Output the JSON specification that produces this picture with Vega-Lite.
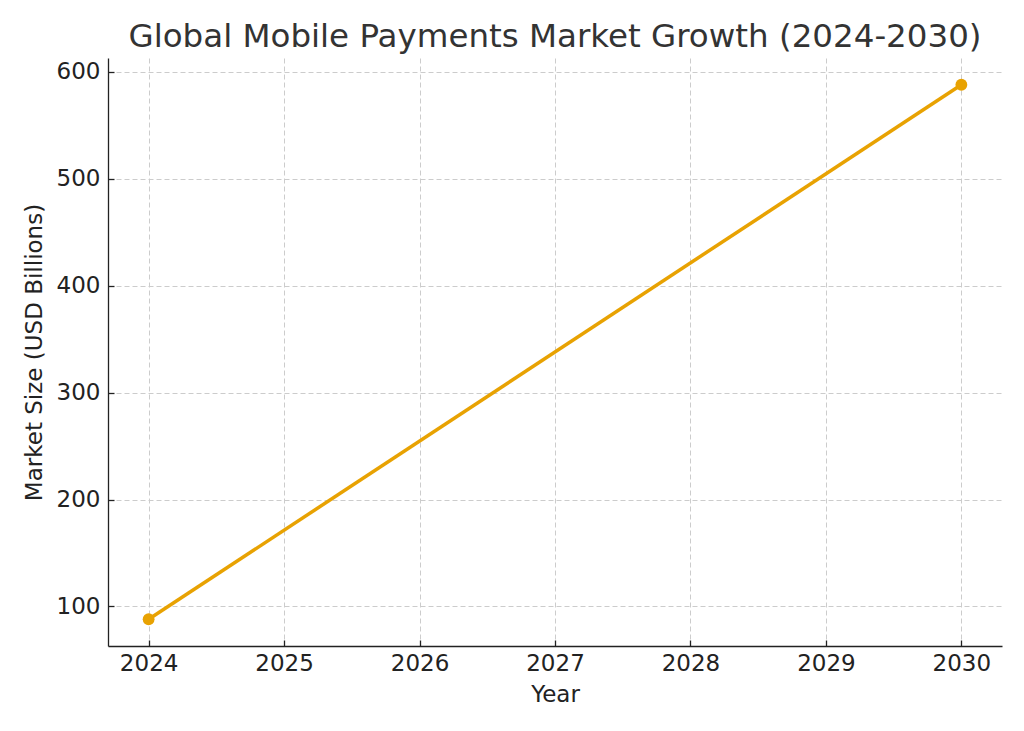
{
  "$schema": "https://vega.github.io/schema/vega-lite/v6.json",
  "background": "white",
  "autosize": "none",
  "width": 894,
  "height": 588,
  "padding": {"left": 108, "top": 58, "right": 22, "bottom": 85},
  "title": {
    "text": "Global Mobile Payments Market Growth (2024-2030)",
    "fontSize": 32.5,
    "fontWeight": "normal",
    "font": "DejaVu Sans",
    "color": "#333333",
    "anchor": "middle",
    "frame": "group",
    "offset": 5
  },
  "data": {
    "values": [
      {"year": 2024, "market_size": 88},
      {"year": 2030, "market_size": 588}
    ]
  },
  "encoding": {
    "x": {
      "field": "year",
      "type": "quantitative",
      "title": "Year",
      "scale": {"domain": [2023.7, 2030.3], "nice": false, "zero": false},
      "axis": {"values": [2024, 2025, 2026, 2027, 2028, 2029, 2030], "format": "d"}
    },
    "y": {
      "field": "market_size",
      "type": "quantitative",
      "title": "Market Size (USD Billions)",
      "scale": {"domain": [63, 613], "nice": false, "zero": false},
      "axis": {"values": [100, 200, 300, 400, 500, 600]}
    }
  },
  "layer": [
    {
      "mark": {"type": "line", "color": "#E8A202", "strokeWidth": 3.5}
    },
    {
      "mark": {"type": "point", "filled": true, "color": "#E8A202", "size": 140, "opacity": 1}
    }
  ],
  "config": {
    "view": {"stroke": null},
    "axis": {
      "labelFont": "DejaVu Sans",
      "titleFont": "DejaVu Sans",
      "labelFontSize": 23,
      "titleFontSize": 23,
      "titleFontWeight": "normal",
      "labelColor": "#222222",
      "titleColor": "#222222",
      "domainColor": "#222222",
      "domainWidth": 1.3,
      "tickColor": "#222222",
      "tickSize": -6,
      "tickWidth": 1.3,
      "grid": true,
      "gridColor": "#cccccc",
      "gridDash": [5, 3],
      "gridWidth": 1
    },
    "axisX": {"labelPadding": 12, "titlePadding": 8},
    "axisY": {"labelPadding": 14, "titlePadding": 10}
  }
}
